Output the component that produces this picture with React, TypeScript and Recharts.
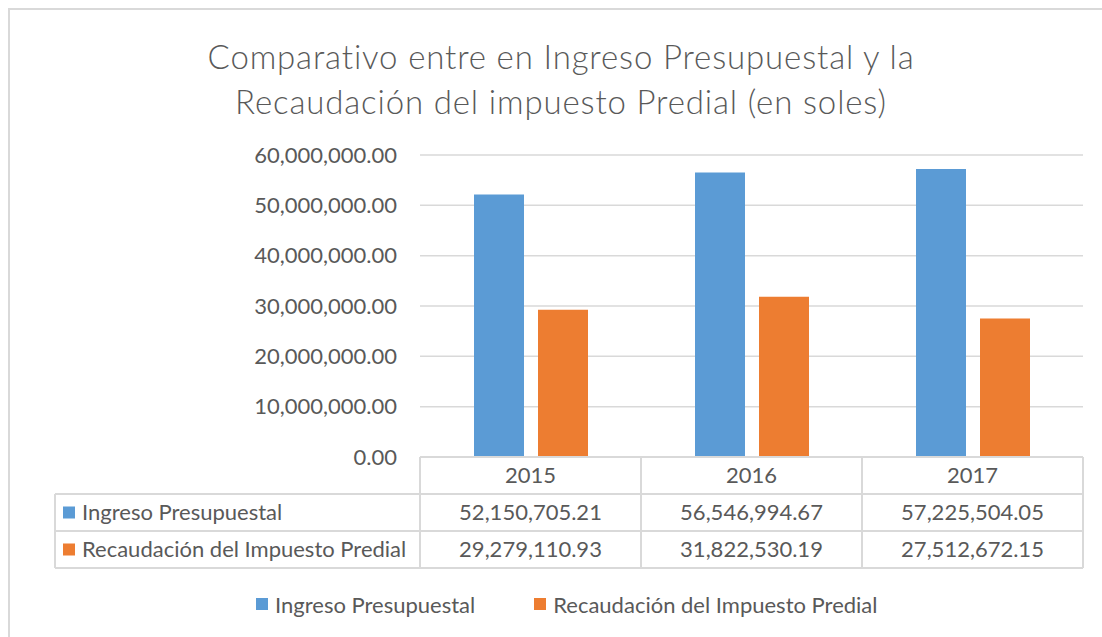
import { BarChart, Bar, XAxis, YAxis, CartesianGrid, Legend } from 'recharts';

const titleLines = [
  'Comparativo entre en Ingreso Presupuestal y la',
  'Recaudación del impuesto Predial (en soles)',
];
const years = ['2015', '2016', '2017'];
const ingreso = [52150705.21, 56546994.67, 57225504.05];
const recaudacion = [29279110.93, 31822530.19, 27512672.15];
const yTicks = [0, 10000000, 20000000, 30000000, 40000000, 50000000, 60000000];
const seriesNames = ['Ingreso Presupuestal', 'Recaudación del Impuesto Predial'];
const seriesColors = ['#5B9BD5', '#ED7D31'];

const data = years.map((year, i) => ({
  year,
  ingreso: ingreso[i],
  recaudacion: recaudacion[i],
}));
const rows = [ingreso, recaudacion];

const W = 1102;
const H = 637;
const FONT = 'Lato, "Open Sans", sans-serif';
const TEXT = '#595959';
const GRID = '#d9d9d9';
const PLOT_LEFT = 420;
const PLOT_RIGHT = 1083;
const PLOT_BOTTOM = 457;
const ROW_H = 37;
const TABLE_LEFT = 55;
const BAND = (PLOT_RIGHT - PLOT_LEFT) / years.length;
const FS = 22;

const fmt = (v: number) =>
  v.toLocaleString('en-US', { minimumFractionDigits: 2, maximumFractionDigits: 2 });

// each x tick draws one column of the data table; the first one also draws the row headers
function TableTick(props: any) {
  const { x, index, payload } = props;
  const left = x - BAND / 2;
  const right = x + BAND / 2;
  const bottom = PLOT_BOTTOM + ROW_H * 3;
  const i = payload.index ?? index;
  return (
    <g fontFamily={FONT} fontSize={FS} fill={TEXT}>
      <line x1={right} x2={right} y1={PLOT_BOTTOM} y2={bottom} stroke={GRID} strokeWidth={2} />
      {i === 0 && (
        <g>
          <line x1={left} x2={left} y1={PLOT_BOTTOM} y2={bottom} stroke={GRID} strokeWidth={2} />
          <line x1={TABLE_LEFT} x2={TABLE_LEFT} y1={PLOT_BOTTOM + ROW_H} y2={bottom} stroke={GRID} strokeWidth={2} />
          {[1, 2, 3].map((r) => (
            <line key={r} x1={TABLE_LEFT} x2={left} y1={PLOT_BOTTOM + ROW_H * r} y2={PLOT_BOTTOM + ROW_H * r} stroke={GRID} strokeWidth={2} />
          ))}
          {seriesNames.map((name, r) => (
            <g key={name}>
              <rect x={TABLE_LEFT + 8} y={PLOT_BOTTOM + ROW_H * (r + 1.5) - 6} width={12} height={12} fill={seriesColors[r]} />
              <text x={TABLE_LEFT + 27} y={PLOT_BOTTOM + ROW_H * (r + 1.5)} dy="0.35em" fill={TEXT}>
                {name}
              </text>
            </g>
          ))}
        </g>
      )}
      {[1, 2, 3].map((r) => (
        <line key={r} x1={left} x2={right} y1={PLOT_BOTTOM + ROW_H * r} y2={PLOT_BOTTOM + ROW_H * r} stroke={GRID} strokeWidth={2} />
      ))}
      <text x={x} y={PLOT_BOTTOM + ROW_H * 0.5} dy="0.35em" textAnchor="middle" fill={TEXT}>
        {payload.value}
      </text>
      {rows.map((vals, r) => (
        <text key={r} x={x} y={PLOT_BOTTOM + ROW_H * (r + 1.5)} dy="0.35em" textAnchor="middle" fill={TEXT}>
          {fmt(vals[i])}
        </text>
      ))}
    </g>
  );
}

function LegendContent(props: any) {
  const items = props.payload || [];
  return (
    <div
      style={{
        height: 36,
        display: 'flex',
        alignItems: 'center',
        paddingLeft: 256,
        fontFamily: FONT,
        fontSize: FS,
        color: TEXT,
      }}
    >
      {items.map((item: any) => (
        <div key={item.value} style={{ display: 'flex', alignItems: 'center', marginRight: 59 }}>
          <span style={{ width: 12, height: 12, background: item.color, marginRight: 7, display: 'inline-block' }} />
          <span>{item.value}</span>
        </div>
      ))}
    </div>
  );
}

export default function App() {
  return (
    <div style={{ position: 'absolute', left: 0, top: 0, width: W, height: H, overflow: 'hidden', background: '#fff' }}>
      <div
        style={{
          position: 'absolute',
          left: 8,
          top: 8,
          width: W + 20,
          height: H + 20,
          border: `2px solid ${GRID}`,
        }}
      />
      <div
        style={{
          position: 'absolute',
          left: 0,
          top: 34,
          width: 1122,
          textAlign: 'center',
          fontFamily: FONT,
          fontSize: 33,
          fontWeight: 300,
          letterSpacing: 0.85,
          lineHeight: '45px',
          color: TEXT,
        }}
      >
        {titleLines.map((t) => (
          <div key={t}>{t}</div>
        ))}
      </div>
      <BarChart
        width={W}
        height={H}
        data={data}
        margin={{ top: 155, right: W - PLOT_RIGHT, left: PLOT_LEFT - 120, bottom: 15 }}
        barCategoryGap={54}
        barGap={14}
      >
        <CartesianGrid horizontal vertical={false} stroke={GRID} strokeWidth={1.5} />
        <XAxis
          dataKey="year"
          height={H - 15 - 36 - PLOT_BOTTOM}
          interval={0}
          tickLine={false}
          axisLine={{ stroke: GRID, strokeWidth: 2 }}
          tick={<TableTick />}
        />
        <YAxis
          width={120}
          domain={[0, 60000000]}
          ticks={yTicks}
          tickFormatter={(v: number) => fmt(v)}
          axisLine={false}
          tickLine={false}
          tickSize={0}
          tickMargin={23}
          tick={{ fontSize: FS, fill: TEXT, fontFamily: FONT }}
        />
        <Legend
          verticalAlign="bottom"
          content={<LegendContent />}
          wrapperStyle={{ left: 0, width: W }}
        />
        <Bar dataKey="ingreso" name={seriesNames[0]} fill={seriesColors[0]} isAnimationActive={false} />
        <Bar dataKey="recaudacion" name={seriesNames[1]} fill={seriesColors[1]} isAnimationActive={false} />
      </BarChart>
    </div>
  );
}
